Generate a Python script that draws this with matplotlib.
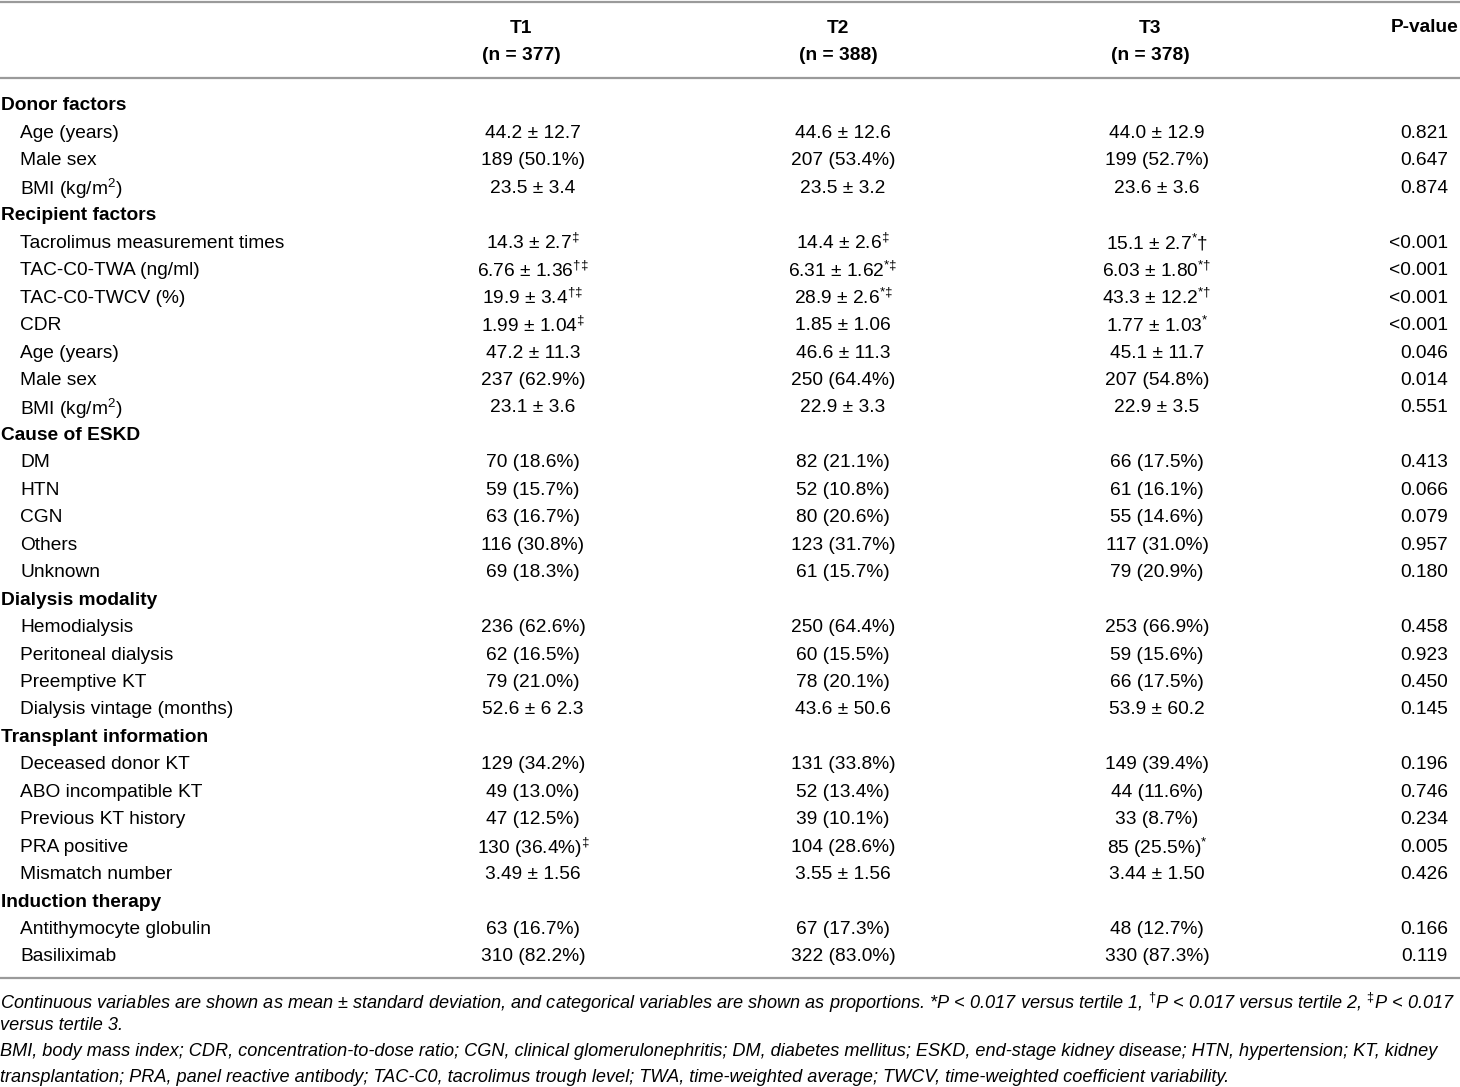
import matplotlib
matplotlib.use("Agg")
import matplotlib.pyplot as plt

plt.rcParams["font.family"] = ["Liberation Sans", "DejaVu Sans"]
plt.rcParams["mathtext.fontset"] = "custom"
plt.rcParams["mathtext.rm"] = "Liberation Sans"
plt.rcParams["mathtext.it"] = "Liberation Sans:italic"

# ------------------------------------------------------------------
# table data (None in the value lists marks a section heading row)
# ------------------------------------------------------------------
col_heads = ["T1\n(n = 377)", "T2\n(n = 388)", "T3\n(n = 378)", "P-value"]

row_labels = [
    "Donor factors", "Age (years)", "Male sex", "BMI (kg/m$^{2}$)",
    "Recipient factors", "Tacrolimus measurement times", "TAC-C0-TWA (ng/ml)",
    "TAC-C0-TWCV (%)", "CDR", "Age (years)", "Male sex", "BMI (kg/m$^{2}$)",
    "Cause of ESKD", "DM", "HTN", "CGN", "Others", "Unknown",
    "Dialysis modality", "Hemodialysis", "Peritoneal dialysis", "Preemptive KT",
    "Dialysis vintage (months)",
    "Transplant information", "Deceased donor KT", "ABO incompatible KT",
    "Previous KT history", "PRA positive", "Mismatch number",
    "Induction therapy", "Antithymocyte globulin", "Basiliximab",
]

t1 = [
    None, "44.2 ± 12.7", "189 (50.1%)", "23.5 ± 3.4",
    None, "14.3 ± 2.7$^{‡}$", "6.76 ± 1.36$^{†‡}$", "19.9 ± 3.4$^{†‡}$",
    "1.99 ± 1.04$^{‡}$", "47.2 ± 11.3", "237 (62.9%)", "23.1 ± 3.6",
    None, "70 (18.6%)", "59 (15.7%)", "63 (16.7%)", "116 (30.8%)", "69 (18.3%)",
    None, "236 (62.6%)", "62 (16.5%)", "79 (21.0%)", "52.6 ± 6 2.3",
    None, "129 (34.2%)", "49 (13.0%)", "47 (12.5%)", "130 (36.4%)$^{‡}$", "3.49 ± 1.56",
    None, "63 (16.7%)", "310 (82.2%)",
]

t2 = [
    None, "44.6 ± 12.6", "207 (53.4%)", "23.5 ± 3.2",
    None, "14.4 ± 2.6$^{‡}$", "6.31 ± 1.62$^{*‡}$", "28.9 ± 2.6$^{*‡}$",
    "1.85 ± 1.06", "46.6 ± 11.3", "250 (64.4%)", "22.9 ± 3.3",
    None, "82 (21.1%)", "52 (10.8%)", "80 (20.6%)", "123 (31.7%)", "61 (15.7%)",
    None, "250 (64.4%)", "60 (15.5%)", "78 (20.1%)", "43.6 ± 50.6",
    None, "131 (33.8%)", "52 (13.4%)", "39 (10.1%)", "104 (28.6%)", "3.55 ± 1.56",
    None, "67 (17.3%)", "322 (83.0%)",
]

t3 = [
    None, "44.0 ± 12.9", "199 (52.7%)", "23.6 ± 3.6",
    None, "15.1 ± 2.7$^{*}$†", "6.03 ± 1.80$^{*†}$", "43.3 ± 12.2$^{*†}$",
    "1.77 ± 1.03$^{*}$", "45.1 ± 11.7", "207 (54.8%)", "22.9 ± 3.5",
    None, "66 (17.5%)", "61 (16.1%)", "55 (14.6%)", "117 (31.0%)", "79 (20.9%)",
    None, "253 (66.9%)", "59 (15.6%)", "66 (17.5%)", "53.9 ± 60.2",
    None, "149 (39.4%)", "44 (11.6%)", "33 (8.7%)", "85 (25.5%)$^{*}$", "3.44 ± 1.50",
    None, "48 (12.7%)", "330 (87.3%)",
]

pvals = [
    None, "0.821", "0.647", "0.874",
    None, "<0.001", "<0.001", "<0.001", "<0.001", "0.046", "0.014", "0.551",
    None, "0.413", "0.066", "0.079", "0.957", "0.180",
    None, "0.458", "0.923", "0.450", "0.145",
    None, "0.196", "0.746", "0.234", "0.005", "0.426",
    None, "0.166", "0.119",
]

notes = [
    "Continuous variables are shown as mean ± standard deviation, and categorical variables are shown as proportions. "
    "*P < 0.017 versus tertile 1, $^{†}$P < 0.017 versus tertile 2, $^{‡}$P < 0.017",
    "versus tertile 3.",
    "BMI, body mass index; CDR, concentration-to-dose ratio; CGN, clinical glomerulonephritis; DM, diabetes mellitus; "
    "ESKD, end-stage kidney disease; HTN, hypertension; KT, kidney",
    "transplantation; PRA, panel reactive antibody; TAC-C0, tacrolimus trough level; TWA, time-weighted average; "
    "TWCV, time-weighted coefficient variability.",
]

# ------------------------------------------------------------------
# drawing, in pixel coordinates of the 1460x1087 canvas
# ------------------------------------------------------------------
W, H = 1460, 1087
fig = plt.figure(figsize=(W / 100, H / 100), dpi=100)
ax = fig.add_axes([0, 0, 1, 1])
ax.set_xlim(0, W)
ax.set_ylim(H, 0)
ax.axis("off")

fs = 13.8
line_color = "#9a9a9a"
for y in (1.5, 78, 978):
    ax.axhline(y, color=line_color, lw=1.6)

head_x = [521, 838, 1150]
for x, h in zip(head_x, col_heads[:3]):
    ax.text(x, 42, h, ha="center", va="center", fontsize=fs, fontweight="bold",
            linespacing=1.7)
ax.text(1458, 28, col_heads[3], ha="right", va="center", fontsize=fs,
        fontweight="bold")

y0, dy = 104, 27.45
val_x = [533, 843, 1157]
for i, lab in enumerate(row_labels):
    y = y0 + i * dy
    if pvals[i] is None:
        ax.text(1, y, lab, ha="left", va="center_baseline", fontsize=fs,
                fontweight="bold")
        continue
    ax.text(20, y, lab, ha="left", va="center_baseline", fontsize=fs)
    for x, col in zip(val_x, (t1, t2, t3)):
        ax.text(x, y, col[i], ha="center", va="center_baseline", fontsize=fs)
    ax.text(1448, y, pvals[i], ha="right", va="center_baseline", fontsize=fs)

note_y = [1000, 1023, 1050, 1075]
for y, txt in zip(note_y, notes):
    ax.text(0, y, txt, ha="left", va="center_baseline", fontsize=13.1,
            style="italic")

fig.savefig("out.png", dpi=100)
